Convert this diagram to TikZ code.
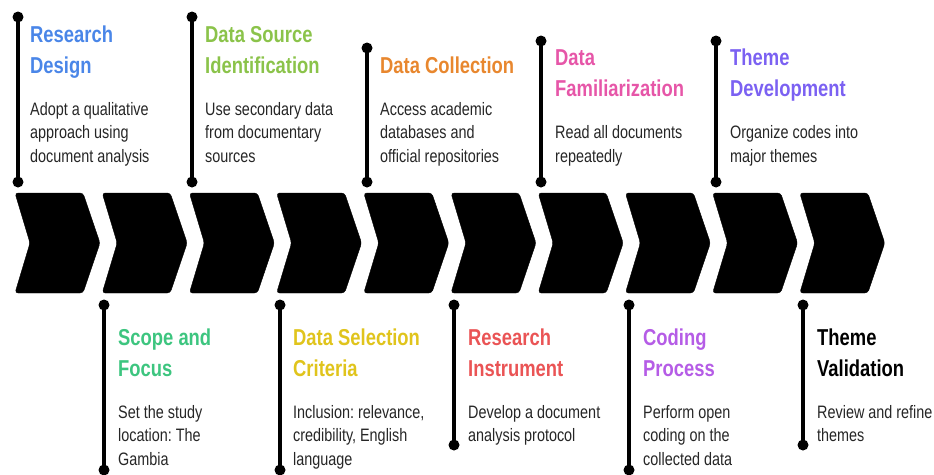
\documentclass[tikz,border=0pt]{standalone}
\usepackage{fontspec}
\setmainfont{Liberation Sans}[FakeStretch=0.8]
\frenchspacing

\definecolor{cdesign}{HTML}{4A86E8}
\definecolor{cscope}{HTML}{3DC57F}
\definecolor{csource}{HTML}{8BC34A}
\definecolor{ccriteria}{HTML}{E0C41C}
\definecolor{ccollect}{HTML}{E8872E}
\definecolor{cinstr}{HTML}{EA5455}
\definecolor{cfamil}{HTML}{E656A8}
\definecolor{ccoding}{HTML}{B55CE6}
\definecolor{cthemedev}{HTML}{7B61F2}

% base west of a multi-line node sits on its last line
\tikzset{
  title/.style={anchor=base west,align=left,inner sep=0pt,font=\bfseries\fontsize{23}{31}\selectfont},
  desc/.style={anchor=base west,align=left,inner sep=0pt,text=black!85,font=\fontsize{18}{23.5}\selectfont},
  dot/.style={circle,fill=black,inner sep=0pt,minimum size=11pt},
  stem/.style={line width=4pt}
}

\begin{document}
\begin{tikzpicture}[x=1pt,y=-1pt]
\useasboundingbox (0,0) rectangle (934,474);

% the ten chevrons
\foreach \k in {0,...,9}
\filldraw[rounded corners=3pt] ({15+87.2*\k},193) -- ++(68,0) -- ++(17,50) -- ++(-17,50) -- ++(-68,0) -- ++(15,-50) -- cycle;

% stems above
\foreach \n/\x/\y in {1/18/17,3/192/17,5/367/48,7/541/41,9/716/41}{
\draw[stem] (\x,\y) coordinate (top\n) -- (\x,182) coordinate (bot\n);
\node[dot] at (top\n) {};
\node[dot] at (bot\n) {};
}

% stems below
\foreach \n/\x/\y in {2/104/470,4/280/470,6/454/445,8/629/470,10/803/445}{
\draw[stem] (\x,305) coordinate (top\n) -- (\x,\y) coordinate (bot\n);
\node[dot] at (top\n) {};
\node[dot] at (bot\n) {};
}

\node[title,text=cdesign] (design) at (30,73) {Research\\Design};
\node[desc] (designtxt) at (30,162) {Adopt a qualitative\\approach using\\document analysis};

\node[title,text=cscope] (scope) at (118,376) {Scope and\\Focus};
\node[desc] (scopetxt) at (118,465) {Set the study\\location: The\\Gambia};

\node[title,text=csource] (source) at (205,73) {Data Source\\Identification};
\node[desc] (sourcetxt) at (205,162) {Use secondary data\\from documentary\\sources};

\node[title,text=ccriteria] (criteria) at (293,376) {Data Selection\\Criteria};
\node[desc] (criteriatxt) at (293,465) {Inclusion: relevance,\\credibility, English\\language};

\node[title,text=ccollect] (collect) at (380,73) {Data Collection};
\node[desc] (collecttxt) at (380,162) {Access academic\\databases and\\official repositories};

\node[title,text=cinstr] (instr) at (468,376) {Research\\Instrument};
\node[desc] (instrtxt) at (468,441.5) {Develop a document\\analysis protocol};

\node[title,text=cfamil] (famil) at (555,96.5) {Data\\Familiarization};
\node[desc] (familtxt) at (555,162) {Read all documents\\repeatedly};

\node[title,text=ccoding] (coding) at (643,376) {Coding\\Process};
\node[desc] (codingtxt) at (643,465) {Perform open\\coding on the\\collected data};

\node[title,text=cthemedev] (themedev) at (730,96.5) {Theme\\Development};
\node[desc] (themedevtxt) at (730,162) {Organize codes into\\major themes};

\node[title] (themeval) at (817,376) {Theme\\Validation};
\node[desc] (themevaltxt) at (817,441.5) {Review and refine\\themes};
\end{tikzpicture}
\end{document}
